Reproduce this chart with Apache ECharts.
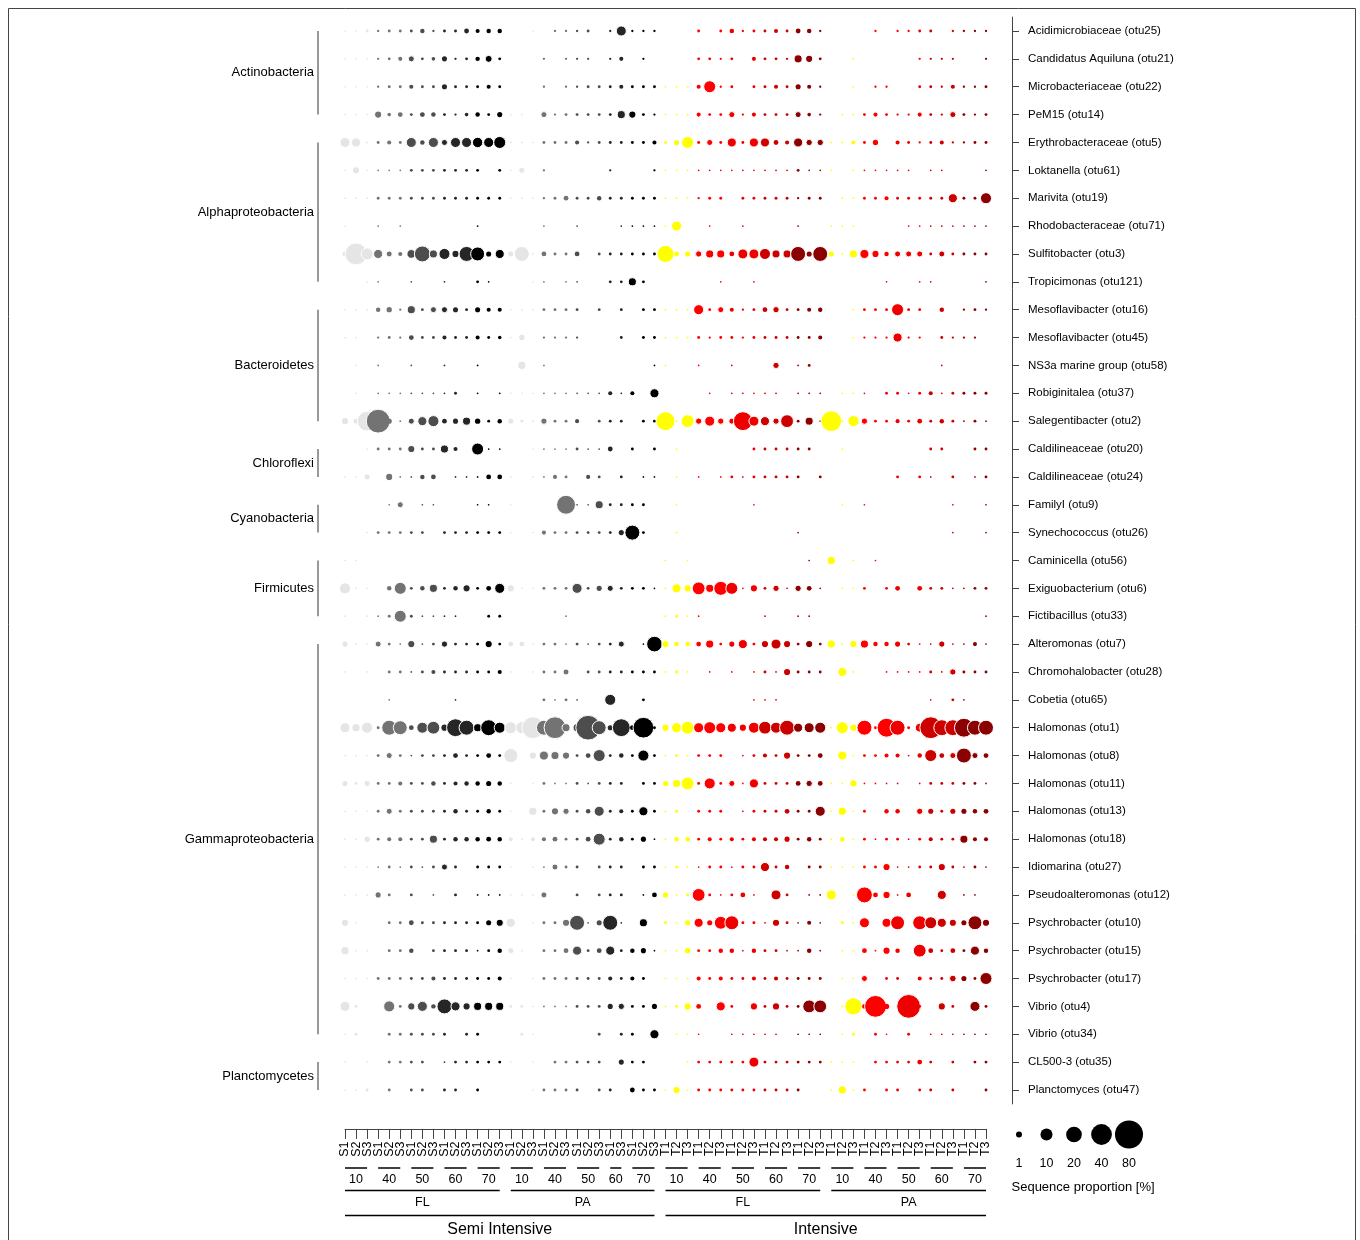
<!DOCTYPE html>
<html>
<head>
<meta charset="utf-8">
<title>OTU sequence proportions by system, fraction and salinity</title>
<script src="https://cdn.jsdelivr.net/npm/echarts@6/dist/echarts.min.js"></script>
<style>
  html, body { margin: 0; padding: 0; background: #ffffff; }
  #chart { width: 1360px; height: 1240px; }
</style>
</head>
<body>
<div id="chart"></div>
<script>
// ---- Row labels (OTUs, top to bottom) ----
const otuNames = [
  'Acidimicrobiaceae (otu25)', 'Candidatus Aquiluna (otu21)', 'Microbacteriaceae (otu22)', 'PeM15 (otu14)',
  'Erythrobacteraceae (otu5)', 'Loktanella (otu61)', 'Marivita (otu19)', 'Rhodobacteraceae (otu71)',
  'Sulfitobacter (otu3)', 'Tropicimonas (otu121)', 'Mesoflavibacter (otu16)', 'Mesoflavibacter (otu45)',
  'NS3a marine group (otu58)', 'Robiginitalea (otu37)', 'Salegentibacter (otu2)', 'Caldilineaceae (otu20)',
  'Caldilineaceae (otu24)', 'FamilyI (otu9)', 'Synechococcus (otu26)', 'Caminicella (otu56)',
  'Exiguobacterium (otu6)', 'Fictibacillus (otu33)', 'Alteromonas (otu7)', 'Chromohalobacter (otu28)',
  'Cobetia (otu65)', 'Halomonas (otu1)', 'Halomonas (otu8)', 'Halomonas (otu11)', 'Halomonas (otu13)',
  'Halomonas (otu18)', 'Idiomarina (otu27)', 'Pseudoalteromonas (otu12)', 'Psychrobacter (otu10)',
  'Psychrobacter (otu15)', 'Psychrobacter (otu17)', 'Vibrio (otu4)', 'Vibrio (otu34)', 'CL500-3 (otu35)',
  'Planctomyces (otu47)'
];

// Phylum brackets on the left: [first row, last row, name]
const phylumGroups = [
  [0, 3, 'Actinobacteria'], [4, 9, 'Alphaproteobacteria'], [10, 14, 'Bacteroidetes'],
  [15, 16, 'Chloroflexi'], [17, 18, 'Cyanobacteria'], [19, 21, 'Firmicutes'],
  [22, 36, 'Gammaproteobacteria'], [37, 38, 'Planctomycetes']
];

// ---- Column labels (samples, left to right) ----
const sampleLabels = [
  'S1','S2','S3','S1','S2','S3','S1','S2','S3','S1','S2','S3','S1','S2','S3',
  'S1','S2','S3','S1','S2','S3','S1','S2','S3','S1','S3','S1','S2','S3',
  'T1','T2','T3','T1','T2','T3','T1','T2','T3','T1','T2','T3','T1','T2','T3',
  'T1','T2','T3','T1','T2','T3','T1','T2','T3','T1','T2','T3','T1','T2','T3'
];
// Salinity groups: [first column, last column, salinity]
const salinityGroups = [
  [0, 2, '10'], [3, 5, '40'], [6, 8, '50'], [9, 11, '60'], [12, 14, '70'],
  [15, 17, '10'], [18, 20, '40'], [21, 23, '50'], [24, 25, '60'], [26, 28, '70'],
  [29, 31, '10'], [32, 34, '40'], [35, 37, '50'], [38, 40, '60'], [41, 43, '70'],
  [44, 46, '10'], [47, 49, '40'], [50, 52, '50'], [53, 55, '60'], [56, 58, '70']
];
const fractionGroups = [[0, 14, 'FL'], [15, 28, 'PA'], [29, 43, 'FL'], [44, 58, 'PA']];
const systemGroups = [[0, 28, 'Semi Intensive'], [29, 58, 'Intensive']];

// Salinity colours per system
const semiPalette = { '10': '#e5e5e5', '40': '#737373', '50': '#4d4d4d', '60': '#262626', '70': '#000000' };
const intPalette  = { '10': '#ffff00', '40': '#ff0000', '50': '#ee0000', '60': '#cd0000', '70': '#8b0000' };

// Size key values (%)
const legendValues = [1, 10, 20, 40, 80];

// ---- Sequence proportion [%], Semi Intensive: FL (15 samples) then PA (14 samples) ----
const semiIntensive = [
  [.02,.02,.1,.05,.1,.1,.1,.4,.05,.1,.1,.5,.3,.4,.4, 0,0,.02,0,.05,.05,.05,.1,0,.05,6,.05,.05,.05],
  [.02,.02,.02,.05,.1,.3,1,.1,.2,.6,.05,.1,.4,1.8,.1, 0,0,0,.05,0,.05,.05,.05,0,.05,.3,0,.05,0],
  [.02,.02,.02,.05,.1,.1,.3,.1,.1,.6,.1,.1,.1,.3,.1, 0,0,0,.05,0,.05,.05,.1,.1,.1,.3,.1,.1,.1],
  [.02,.02,.02,2,.2,.5,.1,.5,.4,.1,.05,.2,.4,.1,.6, .02,.02,0,1,.05,.1,.1,.1,.1,.1,3,2,.1,.05],
  [6,4.5,.02,.1,.3,.1,6,.4,6,1,6,6,6.5,6,10, .02,.02,.02,.1,.1,.1,.3,.05,.1,.1,.1,.1,.1,.3],
  [.02,2,.02,.02,.02,.02,.1,.1,.1,.1,.1,.1,.1,0,.1, .02,1,0,.05,0,0,0,0,0,.05,0,0,0,.05],
  [.02,.02,.02,.1,.1,.1,.1,.1,.1,.1,.1,.1,.1,.1,.1, .02,.02,.02,.05,.1,.5,.1,.1,.4,.1,.1,.1,.1,.1],
  [.02,0,0,.02,0,.02,0,0,0,0,0,0,.02,0,0, 0,0,0,.02,0,0,.02,0,0,0,.02,.02,.02,.02],
  [1,45,10,4.5,1,.3,4,21,3,8,2,18,15,.6,4.5, 1,18,.02,.5,.1,.1,.5,0,.1,.1,.1,.1,.1,.1],
  [0,0,.02,.02,0,0,.02,0,0,.02,0,0,.1,.02,0, 0,0,.02,.02,0,.02,.02,0,0,.1,.1,3,.1,0],
  [.02,.02,.02,.4,.7,.05,3,.1,1,1,.6,.1,.6,.3,.3, .02,.02,.02,.1,.1,.1,.1,0,.1,0,.1,0,.1,.1],
  [.02,.02,0,.05,.1,.05,.5,.1,.1,.3,.1,.1,.3,.1,.2, .02,.7,0,.05,.05,.05,.05,0,0,0,.1,0,.1,.1],
  [0,.02,0,.02,0,0,.02,0,0,.02,0,0,.02,0,0, 0,3,0,.02,0,0,0,0,0,0,0,0,0,.02],
  [0,.02,0,.02,.02,.02,.02,.02,.02,.02,.1,0,.02,0,.02, .02,.02,.02,.02,.02,.02,.02,.02,.02,.3,.02,.3,0,4.5],
  [2,1,35,55,.6,.02,1,4.5,8,.5,.6,3,.7,.1,.4, 1,.1,.02,1.2,.1,.1,.3,0,.1,.1,.1,0,.1,.1],
  [0,0,.02,.1,.1,.1,2,.1,.1,3,.3,0,10,.02,.02, 0,0,.02,.02,.02,.02,.1,.02,.02,.5,0,.1,0,.1],
  [.02,.02,1,0,2,.02,.02,.4,.5,0,.02,.02,.02,.5,.5, .02,0,.02,.02,.3,.1,0,.3,.1,0,.1,0,.02,.02],
  [0,0,0,0,.02,1,0,.02,.02,0,0,0,.02,.02,0, .02,0,0,0,0,32,.02,.02,3,.1,.1,.1,.1,0],
  [0,0,.02,.1,.1,.1,.1,.1,0,.1,.1,.1,.1,.1,.1, .02,0,.02,.3,.1,.1,.1,.1,.1,.1,.6,18,.1,0],
  [.02,.02,0,0,0,0,0,0,0,0,0,0,0,0,0, 0,0,0,0,0,0,0,0,0,0,0,0,0,0],
  [8,.02,.02,0,.4,10,.1,.4,3,.1,.4,2,.1,.5,6, 2,.02,.02,.1,.1,.1,6,.1,.6,1,.1,.1,.1,.02],
  [.02,0,.02,.02,.1,10,.1,.02,.02,.02,.02,0,0,.1,.1, 0,0,0,0,0,.02,0,0,0,0,0,0,0,0],
  [.6,.02,.02,1,.1,.02,2,.02,.1,1.2,.1,.1,.1,2,.1, .5,.5,.02,.1,.1,.02,.1,.02,.1,.1,1,0,.02,20],
  [.02,0,.02,0,.1,.1,.02,.1,.3,.1,.1,.1,.1,.1,.3, .02,0,.02,.1,.1,1,0,.1,.1,.1,.1,.1,.1,.1],
  [0,0,0,0,.02,0,0,0,0,0,.02,0,0,0,0, 0,0,0,.1,.02,.1,.02,0,0,8,0,0,.1,0],
  [6,3,8,.1,18,15,.5,8,12,2,28,18,3,21,8, 10,10,45,18,45,3,3,60,15,.6,28,.5,40,.1],
  [.02,.02,.02,.1,1,.1,.02,.1,.1,.1,.5,.1,.1,.5,.1, 15,0,2,4.5,3,2,.1,.5,10,.1,.4,.1,8,.1],
  [.6,.1,1,.1,.1,.3,.1,.1,.4,.1,.3,.4,.4,.6,.4, .02,0,.02,.1,.02,.02,.1,.02,.1,.1,.1,0,.1,.1],
  [.02,.02,.02,.1,1,.1,.1,.1,.1,.1,.4,.1,.1,.4,.1, .02,0,3,.1,2,1.2,.1,.4,6,.1,.3,.1,4.5,.1],
  [.02,.02,.6,.1,.3,.3,.1,.1,3,.1,.4,.4,.4,.5,.4, .3,.02,.3,.3,.5,.1,.1,.5,10,.1,.4,.1,.6,.02],
  [.02,.02,.02,.02,.1,.02,.1,.02,.1,1,.1,0,.1,.1,.1, .02,0,.02,.02,1,.1,.1,0,.1,.1,.1,0,.1,.1],
  [.02,.02,.02,.6,.1,0,.1,0,.02,0,.1,0,.02,.02,.02, .02,.02,.02,1,0,0,.1,0,.1,.1,.1,0,.02,.5],
  [2,.02,0,0,.1,.1,.5,.1,.1,.1,.1,.1,.1,.6,2, 4.5,0,.02,.1,.1,2,18,.02,.6,18,.02,0,3,0],
  [3,.02,.02,0,.1,.1,.4,0,.1,.1,.1,.1,.02,.1,.4, 1,.02,0,.1,.1,.5,4.5,.1,.5,4.5,.1,.4,.6,.02],
  [.02,.02,.02,.1,.1,.1,.1,.1,.3,.1,.1,.1,.1,.1,.3, .02,0,.02,.1,.1,.1,.1,.1,.1,.3,.1,.3,.1,0],
  [6,.1,0,0,8,.1,2,6,.4,18,4.5,2,3,3,3, .1,.1,.02,.02,.02,.02,.1,.1,.1,.6,1.2,.1,.1,.6],
  [.02,.1,0,0,.1,.1,.1,.1,.1,.1,0,.1,.1,0,0, 0,.1,.02,0,0,0,0,0,.1,0,.1,.1,0,4.5],
  [.02,0,.02,0,.1,.1,.1,.1,0,.02,.1,.1,.1,.1,.1, .02,0,.02,0,.1,.1,.1,.1,.1,0,.6,.1,.1,0],
  [.02,.02,.1,0,.1,0,.1,.1,0,.1,.1,0,.1,0,0, 0,0,.02,.1,.1,.1,.1,0,.1,.1,0,.5,.1,.1]
];

// ---- Sequence proportion [%], Intensive: FL (15 samples) then PA (15 samples) ----
const intensive = [
  [0,0,0,.1,0,.1,.4,.05,.1,.1,.3,.1,.5,.4,.05, 0,0,0,0,.05,0,.05,.05,.1,.1,0,.05,.05,.05,.05],
  [0,0,0,.1,.1,.05,.1,0,.3,.1,.1,.05,3,2,.1, 0,0,.02,0,0,0,0,0,.05,.05,.05,.05,0,0,.05],
  [.02,.02,.02,.3,10,.05,.1,0,.1,.1,.3,.1,.6,.3,.05, 0,0,.02,0,.05,.05,0,0,.1,.1,.05,.3,.05,.05,.1],
  [.02,.02,.02,.3,.1,.1,1,.05,.3,.1,.1,.1,1,.2,.05, 0,.02,.02,.1,.3,.1,.05,.05,.3,.1,.05,1,.1,.05,.1],
  [.1,.6,10,.1,1,.1,4.5,.1,4.5,4.5,.5,.3,4.5,1.2,1.2, .02,.02,.3,.1,.7,0,.3,.1,.05,.1,.3,.05,.05,.1,.1],
  [.02,.02,.02,.02,.02,.02,.02,.02,.02,.02,.02,.02,.1,.02,.02, .02,0,.02,.02,.02,.02,.02,.02,0,.02,.02,0,0,0,.02],
  [.02,.02,.02,.05,.1,.1,0,.1,.1,.1,.1,.1,.05,.1,.1, 0,.02,.02,.1,.1,.3,.1,.1,.1,.1,.1,4.5,.1,.1,8],
  [.02,6,0,0,.02,0,0,.02,0,0,0,0,.02,0,0, .02,.02,.02,0,0,0,0,.02,.02,.02,.02,.02,.02,.02,.02],
  [25,.5,.6,1.2,3,3,.5,6,6,8,3,3,18,.6,18, .6,.02,3,4.5,2,.4,1,1,1,.1,1,.1,.1,.1,.1],
  [0,0,0,0,0,.02,0,0,.02,0,0,0,0,0,0, 0,0,0,0,0,.02,0,0,.02,.02,0,0,0,0,.02],
  [.02,.02,.02,6,.1,1,.3,.05,.1,.5,1.2,.1,.1,.3,.4, 0,0,.02,.1,.1,.1,10,.1,.1,0,.4,0,.05,.1,.05],
  [.02,.02,.02,.1,.05,.1,.1,.05,.1,.1,.1,.1,.1,.1,.3, 0,0,.02,.05,.05,.05,4.5,.05,.05,0,.1,.05,.05,.05,0],
  [.02,0,0,.02,0,0,.02,0,0,0,1.2,0,.02,.1,0, 0,0,0,0,0,0,0,0,0,0,.02,0,0,0,0],
  [0,0,0,0,.02,0,.02,.02,.02,.02,.02,0,.02,.02,.02, 0,.02,.02,.02,0,.1,.1,.02,.1,.3,.02,.1,.1,.1,.1],
  [32,.02,12,1.2,6,1.2,1,32,6,4.5,1.2,12,.1,3,.02, 40,.02,8,1.2,.1,.1,.3,.1,.5,.1,.4,.1,.02,.1,.02],
  [0,.02,0,0,0,0,0,0,.1,.1,.1,.1,.1,.1,0, 0,.02,0,0,0,0,0,0,0,.1,.1,0,0,.1,.1],
  [0,.02,0,.02,0,.02,.1,.02,.1,.1,.1,.1,.1,0,.1, 0,0,0,0,0,0,.1,0,.1,.02,0,.1,0,.02,.1],
  [0,.02,0,0,0,0,0,0,.02,0,0,0,0,0,0, 0,.02,0,.02,0,0,0,0,0,0,0,.02,0,0,.02],
  [0,.02,0,0,0,0,0,0,0,0,0,0,.02,0,0, 0,0,0,0,0,0,0,0,0,0,0,.02,0,0,.02],
  [.02,0,.02,0,0,0,0,0,0,0,0,0,0,.02,0, 3,0,.02,0,.02,0,0,0,0,0,0,0,0,0,0],
  [.02,4.5,2,12,3,15,10,.02,2,.1,1.2,.02,1.2,.5,.02, 0,.02,.02,.1,0,.1,.5,0,.5,.1,.1,.02,.02,.1,.1],
  [.02,.1,.02,.02,0,0,0,0,0,.02,0,0,.02,.02,0, 0,0,0,0,0,0,0,0,0,0,0,0,0,0,.02],
  [2,.4,.5,.5,3,.1,.6,4.5,.1,2,6,2,.1,2,.1, 3,.02,2,3,.4,.4,.6,.1,.02,.02,1.2,.02,.02,.3,.02],
  [.02,.1,.02,0,.02,0,.02,0,.02,.1,.02,2,.1,.1,.1, 0,4.5,.02,0,0,.02,.02,.02,.02,.1,.02,1.2,.1,.1,.1],
  [0,0,0,0,0,0,0,0,.02,.02,.02,0,0,0,0, 0,0,0,0,0,0,0,0,0,.02,0,.1,.02,0,0],
  [2,6,12,6,10,6,4.5,2,8,12,8,18,4.5,6,8, .02,10,2,18,.1,32,18,.1,4,45,21,21,32,18,18],
  [.02,.1,.02,.1,.1,.1,0,.02,.1,.3,.1,2,.1,.1,.5, 0,4.5,.02,.1,.1,.3,.3,.02,.4,10,.5,1,18,1,.5],
  [.6,3,12,.1,8,.1,1,.02,4.5,.1,.1,.1,.5,1.2,.5, .02,.02,2,.02,.02,.02,.02,0,.02,.1,.1,.1,.1,.1,.02],
  [.02,.1,0,.1,.1,.1,0,.02,.1,.1,.1,.5,.1,.1,6, .02,3,.02,.1,0,.4,.4,0,1.2,.6,.1,.6,.6,.4,.5],
  [.02,.4,.4,.1,.3,.1,.3,.1,.3,.3,.3,.6,.1,.4,.1, .02,.4,.02,.1,.02,.1,.1,.02,.1,.3,.1,.1,3,.3,.3],
  [.02,.1,.02,.02,.1,.1,.02,.1,.1,4.5,.1,.4,0,.1,.1, .02,.02,.02,.1,.1,2,.02,.02,.1,.1,2,.1,.02,.1,.02],
  [.6,.02,.1,12,.1,.02,.1,.5,.02,0,6,.1,0,.02,.02, 6,0,.02,21,.5,2,.02,.5,0,0,4.5,0,.02,.02,0],
  [.1,.02,.6,4.5,.6,12,15,.1,.1,.02,2,.1,.02,.3,.02, 0,.1,.02,6,0,4.5,15,0,15,10,4.5,2,.6,15,2],
  [.02,.02,.7,.1,.1,.4,.4,.02,.4,.1,.1,.02,.02,.4,.02, 0,.02,.02,.5,.02,2,.4,0,12,.5,.1,.5,.1,4.5,.4],
  [.02,.02,.02,.3,.1,.3,.1,.1,.3,.1,.3,.1,.1,.1,.1, 0,.02,.02,1,0,.1,.1,0,.3,.1,.1,1.5,.6,.1,10],
  [.02,.1,2,.5,0,4.5,.1,0,2,.1,2,.1,.1,12,12, 0,.02,25,.5,45,.7,0,55,.1,0,2,.1,0,6,.1],
  [0,.02,.02,.02,0,0,.02,.02,.02,.02,.02,0,.02,.02,.02, 0,.02,.1,0,.1,.02,0,.1,0,.02,.02,.02,.02,.02,.02],
  [0,0,.02,.1,.1,.1,.1,.1,6,.1,.1,.1,.1,.1,.1, .02,.02,.02,0,.1,.1,.1,.1,.5,.1,0,.1,0,.1,.1],
  [.02,2,.02,.1,.1,.1,.1,.1,.1,.1,.1,.1,.1,0,0, .02,3,.02,.1,0,.1,.1,0,.1,.1,0,.1,0,0,.1]
];

// ---- Helpers ----
const FONT = '"Liberation Sans", Arial, Helvetica, sans-serif';

// Circle diameter (px) for a proportion in %
function sizeOf(v) {
  return v >= 1 ? 3.25 + 2.77 * Math.sqrt(v) : 6 * Math.pow(v, 0.32);
}

// Colour for each sample column, from its salinity group and system
const semiCount = semiIntensive[0].length;
const columnColors = [];
salinityGroups.forEach(([a, b, sal]) => {
  for (let c = a; c <= b; c++) {
    columnColors[c] = c < semiCount ? semiPalette[sal] : intPalette[sal];
  }
});

// Bubble data: row by row, columns left to right so later samples sit on top
const bubbles = [];
otuNames.forEach((name, r) => {
  const rowVals = semiIntensive[r].concat(intensive[r]);
  rowVals.forEach((v, c) => {
    if (v > 0) {
      const d = sizeOf(v);
      bubbles.push({
        value: [c, r, v],
        symbolSize: d,
        itemStyle: { color: columnColors[c], opacity: 1, borderColor: '#ffffff', borderWidth: d >= 6 ? 1 : 0 }
      });
    }
  });
});

function textStyle(text, x, y, size, align, vAlign) {
  return {
    text, x, y, font: size + 'px ' + FONT, fill: '#000000',
    align, verticalAlign: vAlign, textAlign: align, textVerticalAlign: vAlign
  };
}

// Rotated sample labels under the tick marks
const sampleLabelSeries = {
  type: 'custom', clip: false, silent: true, z: 5,
  encode: { x: 0 },
  data: sampleLabels.map((s, i) => [i]),
  renderItem(params, api) {
    const x = api.coord([api.value(0), 0])[0];
    return {
      type: 'text', x: x, y: 1141.5, rotation: Math.PI / 2,
      style: textStyle(sampleLabels[params.dataIndex], 0, 0, 12.5, 'right', 'middle')
    };
  }
};

// Horizontal brackets under the sample axis
function columnBrackets(groups, lineY, textY, fontSize, lineWidth) {
  return {
    type: 'custom', clip: false, silent: true, z: 5,
    encode: { x: [0, 1] },
    data: groups.map(g => [g[0], g[1]]),
    renderItem(params, api) {
      const x1 = api.coord([api.value(0), 0])[0];
      const x2 = api.coord([api.value(1), 0])[0];
      const label = groups[params.dataIndex][2];
      return {
        type: 'group',
        children: [
          { type: 'line', shape: { x1, y1: lineY, x2, y2: lineY }, style: { stroke: '#000000', lineWidth } },
          { type: 'text', style: textStyle(label, (x1 + x2) / 2, textY, fontSize, 'center', 'middle') }
        ]
      };
    }
  };
}

// Vertical phylum brackets at the left
const phylumSeries = {
  type: 'custom', clip: false, silent: true, z: 5,
  encode: { y: [0, 1] },
  data: phylumGroups.map(g => [g[0], g[1]]),
  renderItem(params, api) {
    const p1 = api.coord([0, api.value(0)]);
    const p2 = api.coord([0, api.value(1)]);
    const x = p1[0] - 27;
    const label = phylumGroups[params.dataIndex][2];
    return {
      type: 'group',
      children: [
        { type: 'line', shape: { x1: x, y1: p1[1], x2: x, y2: p2[1] }, style: { stroke: '#555555', lineWidth: 1.2 } },
        { type: 'text', style: textStyle(label, x - 4, (p1[1] + p2[1]) / 2, 13, 'right', 'middle') }
      ]
    };
  }
};

// Size key (bottom right)
const legendX = [1019, 1046.5, 1074, 1101.5, 1129];
const legendGraphics = [];
legendValues.forEach((v, i) => {
  legendGraphics.push({
    type: 'circle', shape: { cx: legendX[i], cy: 1134.5, r: sizeOf(v) / 2 },
    style: { fill: '#000000' }, silent: true
  });
  legendGraphics.push({
    type: 'text', style: textStyle(String(v), legendX[i], 1163.5, 12.5, 'center', 'middle'), silent: true
  });
});
legendGraphics.push({
  type: 'text', style: textStyle('Sequence proportion [%]', 1011.5, 1187, 13, 'left', 'middle'), silent: true
});
// Outer frame
legendGraphics.push({
  type: 'rect', shape: { x: 8.5, y: 8.5, width: 1347, height: 1260 },
  style: { fill: 'none', stroke: '#444444', lineWidth: 1 }, silent: true, z: -10
});

const ROW_H = 27.868;
const chart = echarts.init(document.getElementById('chart'), null, { renderer: 'canvas' });
chart.setOption({
  animation: false,
  backgroundColor: '#ffffff',
  grid: { left: 345, width: 641, top: 31 - ROW_H / 2, height: ROW_H * otuNames.length, containLabel: false },
  xAxis: {
    type: 'value', min: 0, max: sampleLabels.length - 1, interval: 1,
    position: 'bottom', offset: 25,
    axisLine: { show: true, onZero: false, lineStyle: { color: '#444444', width: 1 } },
    axisTick: { show: true, length: 10, lineStyle: { color: '#444444', width: 1 } },
    axisLabel: { show: false },
    splitLine: { show: false }
  },
  yAxis: {
    type: 'category', data: otuNames, inverse: true,
    position: 'right', offset: 26,
    axisLine: { show: true, onZero: false, lineStyle: { color: '#444444', width: 1 } },
    axisTick: { show: true, alignWithLabel: true, interval: 0, length: 7, lineStyle: { color: '#444444' } },
    axisLabel: { interval: 0, margin: 16, fontSize: 11.5, fontFamily: FONT, color: '#000000' },
    splitLine: { show: false }
  },
  graphic: legendGraphics,
  series: [
    {
      type: 'scatter', data: bubbles, clip: false, progressive: 0, silent: true,
      symbol: 'circle', emphasis: { disabled: true }, z: 3
    },
    phylumSeries,
    sampleLabelSeries,
    columnBrackets(salinityGroups, 1168, 1179.5, 12.5, 1.5),
    columnBrackets(fractionGroups, 1190.5, 1202.5, 12.5, 1.3),
    columnBrackets(systemGroups, 1215.5, 1230, 16, 1.3)
  ]
});
</script>
</body>
</html>
